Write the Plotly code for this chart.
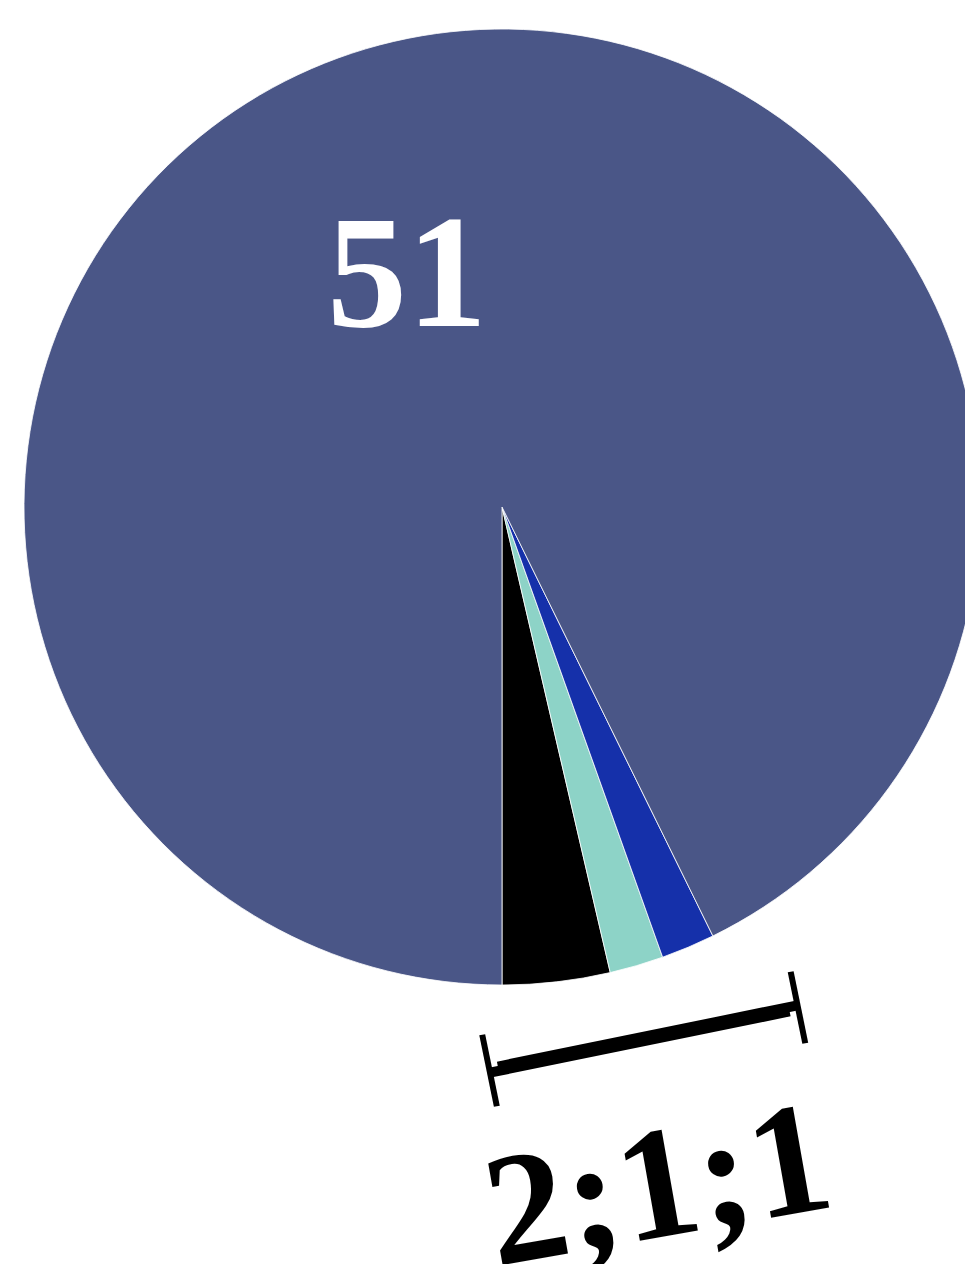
import math
import plotly.graph_objects as go

# ---- data ----
labels = ["a", "b", "c", "d"]
values = [2, 1, 1, 51]
colors = ["#000000", "#8dd3c7", "#1530aa", "#4a5687"]
big_text = str(values[3])
small_text = ";".join(str(v) for v in values[:3])

# ---- layout constants (pixels) ----
W, H = 1004, 1264
CX, CY, R = 502, 507, 478
FONT = "Liberation Serif, Times New Roman, serif"

total = sum(values)
rotation = 180 - values[0] / total * 360


def px(x, y):
    return x / W, 1 - y / H


fig = go.Figure(
    go.Pie(
        labels=labels,
        values=values,
        sort=False,
        direction="counterclockwise",
        rotation=rotation,
        marker=dict(colors=colors, line=dict(color="white", width=0.8)),
        textinfo="none",
        hoverinfo="label+value",
        domain=dict(x=[0, 1], y=[(H - (CY + R)) / H, (H - (CY - R)) / H]),
        showlegend=False,
    )
)

annotations = []
ax, ay = px(407, 272)
annotations.append(dict(x=ax, y=ay, xref="paper", yref="paper", text=big_text,
                        showarrow=False, xanchor="center", yanchor="middle",
                        font=dict(family=FONT, size=160, color="white", weight="bold")))
tx, ty = px(657, 1183)
annotations.append(dict(x=tx, y=ty, xref="paper", yref="paper", text=small_text,
                        showarrow=False, xanchor="center", yanchor="middle",
                        textangle=-10,
                        font=dict(family=FONT, size=160, color="black", weight="bold")))

# bracket
bcx, bcy = 643.75, 1039
ang = math.radians(-11.54)
dx, dy = math.cos(ang), math.sin(ang)
nx, ny = -dy, dx
half = 157.4
tick = 36.5
shapes = []


def seg(x0, y0, x1, y1, w):
    p0 = px(x0, y0)
    p1 = px(x1, y1)
    return dict(type="line", xref="paper", yref="paper", x0=p0[0], y0=p0[1],
                x1=p1[0], y1=p1[1], line=dict(color="black", width=w))


# upper bar (inset on left), lower bar (inset on right)
off = 2.2
inset = 9
bw = 10
shapes.append(seg(bcx - (half - inset) * dx - off * nx, bcy - (half - inset) * dy - off * ny,
                  bcx + half * dx - off * nx, bcy + half * dy - off * ny, bw))
shapes.append(seg(bcx - half * dx + off * nx, bcy - half * dy + off * ny,
                  bcx + (half - inset) * dx + off * nx, bcy + (half - inset) * dy + off * ny, bw))
for s in (-1, 1):
    ex, ey = bcx + s * half * dx, bcy + s * half * dy
    shapes.append(seg(ex - tick * nx, ey - tick * ny, ex + tick * nx, ey + tick * ny, 6))

fig.update_layout(
    width=W, height=H,
    margin=dict(l=0, r=0, t=0, b=0),
    paper_bgcolor="white", plot_bgcolor="white",
    annotations=annotations,
    shapes=shapes,
)

fig.write_html(
    "out.html",
    config={"displayModeBar": False},
    post_script="document.body.style.margin='0';document.body.style.overflow='hidden';",
)
